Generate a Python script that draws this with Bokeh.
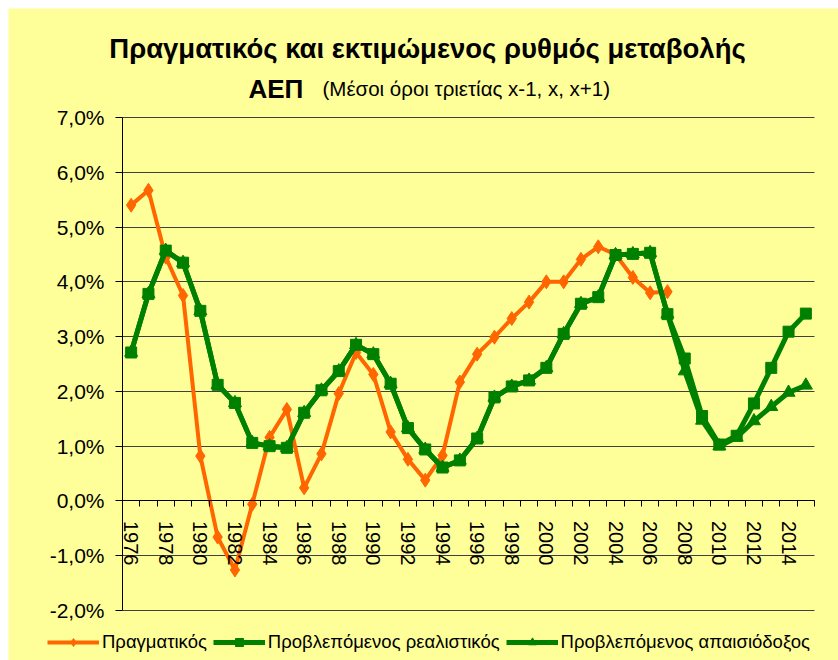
import math
from bokeh.plotting import figure
from bokeh.models import FixedTicker, Legend, LegendItem, Label, Range1d
from bokeh.embed import file_html
from bokeh.resources import INLINE

# ---- data ----
years = list(range(1976, 2016))
actual_years = list(range(1976, 2008))
actual = [5.40, 5.67, 4.45, 3.75, 0.82, -0.66, -1.26, -0.06, 1.16, 1.67,
          0.24, 0.86, 1.96, 2.71, 2.31, 1.26, 0.76, 0.38, 0.83, 2.17,
          2.68, 2.99, 3.33, 3.63, 4.00, 4.00, 4.41, 4.64, 4.50, 4.08,
          3.80, 3.82]
realistic = [2.71, 3.78, 4.57, 4.35, 3.47, 2.12, 1.79, 1.06, 1.00, 0.97,
             1.61, 2.02, 2.37, 2.85, 2.68, 2.14, 1.33, 0.94, 0.61, 0.74,
             1.14, 1.89, 2.09, 2.20, 2.43, 3.05, 3.60, 3.72, 4.49, 4.51,
             4.53, 3.41, 2.60, 1.55, 1.03, 1.19, 1.78, 2.43, 3.09, 3.42]
pessimistic = [2.71, 3.78, 4.57, 4.35, 3.47, 2.12, 1.79, 1.06, 1.00, 0.97,
               1.61, 2.02, 2.37, 2.85, 2.68, 2.14, 1.33, 0.94, 0.61, 0.74,
               1.14, 1.89, 2.09, 2.20, 2.43, 3.05, 3.60, 3.72, 4.49, 4.51,
               4.53, 3.41, 2.37, 1.47, 1.00, 1.16, 1.46, 1.72, 1.98, 2.11]
x_tick_years = list(range(1976, 2015, 2))
y_ticks = [-2, -1, 0, 1, 2, 3, 4, 5, 6, 7]
y_tick_labels = ["-2,0%", "-1,0%", "0,0%", "1,0%", "2,0%", "3,0%", "4,0%", "5,0%", "6,0%", "7,0%"]
series_names = ["Πραγματικός", "Προβλεπόμενος ρεαλιστικός", "Προβλεπόμενος απαισιόδοξος"]
title_line1 = "Πραγματικός και εκτιμώμενος ρυθμός μεταβολής"
title_line2a = "ΑΕΠ"
title_line2b = "(Μέσοι όροι τριετίας x-1, x, x+1)"

BG = "#FFFF99"
ORANGE = "#FF6600"
GREEN = "#008000"
FONT = "Liberation Sans"

# ---- layout constants (pixels) ----
FIG_W, FIG_H = 830, 652
PAD_L, PAD_R, PAD_T, PAD_B = 114, 24, 109, 50

x0, x1 = years[0] - 0.5, years[-1] + 0.5
y0, y1 = y_ticks[0], y_ticks[-1]
ppx = (FIG_W - PAD_L - PAD_R) / (x1 - x0)
ppy = (FIG_H - PAD_T - PAD_B) / (y1 - y0)

p = figure(width=FIG_W, height=FIG_H,
           x_range=Range1d(x0 - PAD_L / ppx, x1 + PAD_R / ppx),
           y_range=Range1d(y0 - PAD_B / ppy, y1 + PAD_T / ppy),
           output_backend="svg", toolbar_location=None,
           background_fill_color=BG, border_fill_color=BG,
           min_border_left=0, min_border_right=0,
           min_border_top=0, min_border_bottom=0)
p.outline_line_color = None
p.margin = (8, 0, 0, 8)

# x axis crossing at 0
xa = p.xaxis[0]
xa.fixed_location = 0
xa.bounds = (x0, x1)
xa.ticker = FixedTicker(ticks=x_tick_years,
                        minor_ticks=[y - 0.5 for y in years] + [x1])
xa.major_tick_out = 0
xa.major_tick_in = 0
xa.minor_tick_out = 6
xa.minor_tick_in = 0
xa.minor_tick_line_color = "black"
xa.axis_line_color = "black"
xa.major_label_orientation = -math.pi / 2
xa.major_label_text_font = FONT
xa.major_label_text_font_size = "20px"
xa.major_label_text_color = "black"
xa.major_label_standoff = 14
p.xgrid.grid_line_color = None

ya = p.yaxis[0]
ya.fixed_location = x0
ya.bounds = (y0, y1)
ya.ticker = FixedTicker(ticks=y_ticks)
ya.major_label_overrides = {t: lab for t, lab in zip(y_ticks, y_tick_labels)}
ya.major_tick_out = 7
ya.major_tick_in = 0
ya.minor_tick_line_color = None
ya.axis_line_color = "black"
ya.major_tick_line_color = "black"
ya.major_label_text_font = FONT
ya.major_label_text_font_size = "21px"
ya.major_label_text_color = "black"
ya.major_label_standoff = 11

grid = p.ygrid[0]
grid.ticker = FixedTicker(ticks=y_ticks)
grid.bounds = (y0 - 0.01, y1 + 0.01)
grid.grid_line_color = "#404040"
grid.grid_line_width = 1
if hasattr(grid, "cross_bounds"):
    grid.cross_bounds = (x0, x1)
else:
    grid.grid_line_color = None
    p.segment(x0=[x0] * len(y_ticks), x1=[x1] * len(y_ticks), y0=y_ticks, y1=y_ticks,
              line_color="#404040", line_width=1)

l1 = p.line(actual_years, actual, line_color=ORANGE, line_width=4)
m1 = p.scatter(actual_years, actual, marker="diamond", size=14, color=ORANGE)
l3 = p.line(years, pessimistic, line_color=GREEN, line_width=5)
m3 = p.scatter(years, pessimistic, marker="triangle", size=13, color=GREEN)
l2 = p.line(years, realistic, line_color=GREEN, line_width=5)
m2 = p.scatter(years, realistic, marker="square", size=11, color=GREEN)

legend = Legend(items=[LegendItem(label=series_names[0], renderers=[l1, m1]),
                       LegendItem(label=series_names[1], renderers=[l2, m2]),
                       LegendItem(label=series_names[2], renderers=[l3, m3])],
                orientation="horizontal", location=(39, 7),
                background_fill_alpha=0,
                border_line_color=None, label_text_font=FONT,
                label_text_color="black",
                label_text_font_size="18.5px", glyph_width=52, glyph_height=20,
                label_height=20, label_standoff=3, spacing=6, padding=0, margin=0)
p.add_layout(legend, "center")

p.add_layout(Label(x=419, y=612, x_units="screen", y_units="screen",
                   text=title_line1, text_align="center", text_baseline="middle",
                   text_color="black",
                   text_font=FONT, text_font_style="bold", text_font_size="27.5px"))
p.add_layout(Label(x=240, y=572, x_units="screen", y_units="screen",
                   text=title_line2a, text_align="left", text_baseline="middle",
                   text_color="black",
                   text_font=FONT, text_font_style="bold", text_font_size="26px"))
p.add_layout(Label(x=314, y=572, x_units="screen", y_units="screen",
                   text=title_line2b, text_align="left", text_baseline="middle",
                   text_color="black",
                   text_font=FONT, text_font_size="20.5px"))

open("out.html", "w").write(file_html(p, INLINE))
